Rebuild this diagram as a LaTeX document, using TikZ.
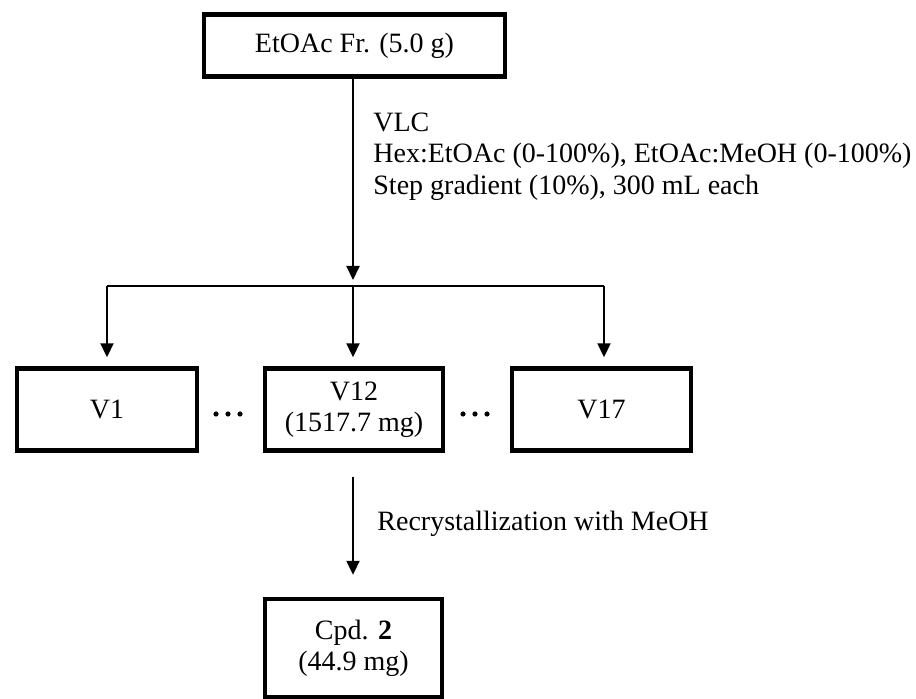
\documentclass[tikz,border=0pt]{standalone}
\usepackage{fontspec}
\setmainfont{Liberation Serif}
\usetikzlibrary{arrows.meta}
\begin{document}
\begin{tikzpicture}[x=0.5pt,y=-0.5pt,
  box/.style={draw, line width=2.2pt, rectangle, inner sep=0pt, align=center,
    font=\fontsize{14}{15.5}\selectfont},
  arr/.style={line width=1pt, -{Triangle[length=7pt,width=6.5pt]}},
  bar/.style={line width=1pt},
  lbl/.style={anchor=base west, inner sep=0pt, font=\fontsize{14}{15.75}\selectfont},
  dot/.style={fill=black, draw=none}]
\useasboundingbox (0,0) rectangle (916,699);
% boxes
\node[box, minimum width=150.5pt, minimum height=31pt] (top) at (354.5,45.5) {EtOAc Fr. (5.0 g)};
\node[box, minimum width=90pt, minimum height=41pt] (v1) at (107,409.5) {V1};
\node[box, minimum width=89pt, minimum height=41pt] (v12) at (354,409.5) {V12\\(1517.7 mg)};
\node[box, minimum width=89.5pt, minimum height=41pt] (v17) at (601.5,409.5) {V17};
\node[box, minimum width=88.5pt, minimum height=49pt] (cpd) at (353.5,648) {Cpd. \textbf{2}\\(44.9 mg)};
% labels
\node[lbl] (l1) at (373,132) {VLC};
\node[lbl] (l2) at (373,163) {Hex:EtOAc (0-100\%), EtOAc:MeOH (0-100\%)};
\node[lbl] (l3) at (373,195) {Step gradient (10\%), 300 mL each};
\node[lbl] (l4) at (377,531) {Recrystallization with MeOH};
% connector coordinates
\coordinate (a1) at (353,280);
\coordinate (b1) at (107,286);
\coordinate (b2) at (353,286);
\coordinate (b3) at (604,286);
% connectors
\draw[arr] (top.south -| a1) -- (a1);
\draw[bar] (b1) -- (b3);
\draw[arr, shorten >=4.5pt] (b1) -- (b1 |- v1.north);
\draw[arr, shorten >=4.5pt] (b2) -- (b2 |- v12.north);
\draw[arr, shorten >=4.5pt] (b3) -- (b3 |- v17.north);
\draw[arr, shorten <=12pt, shorten >=11pt] (v12.south -| a1) -- (cpd.north -| a1);
% dots
\foreach \x in {216,228,240,463,475,487} \fill[dot] (\x,414) circle (2.6);
\end{tikzpicture}
\end{document}
